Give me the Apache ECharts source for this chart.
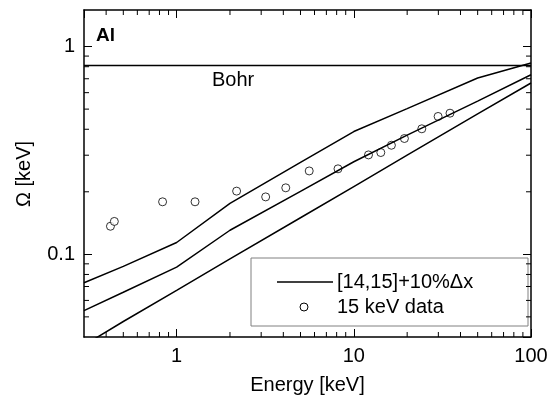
<!DOCTYPE html>
<html><head><meta charset="utf-8">
<script src="https://cdn.jsdelivr.net/npm/echarts@6/dist/echarts.min.js"></script>
<style>html,body{margin:0;padding:0;background:#fff}#c{width:559px;height:406px}</style>
</head><body><div id="c"></div>
<script>
const curveEnergy = [0.3, 0.5, 1, 2, 5, 10, 20, 50, 100];
const upperOmega  = [0.073, 0.0875, 0.114, 0.176, 0.277, 0.39, 0.503, 0.706, 0.834];
const middleOmega = [0.0536, 0.0657, 0.0868, 0.1306, 0.201, 0.279, 0.375, 0.546, 0.732];
const lowerOmega  = [0.0365, 0.0475, 0.067, 0.095, 0.150, 0.212, 0.300, 0.474, 0.668];
const bohrEnergy = [0.3, 100];
const bohrOmega  = [0.81, 0.81];
const dataEnergy = [0.423, 0.445, 0.833, 1.27, 2.18, 3.18, 4.13, 5.6, 8.14, 12.1, 14.2, 16.3, 19.3, 24.2, 29.9, 34.9];
const dataOmega  = [0.1365, 0.144, 0.179, 0.179, 0.2015, 0.189, 0.209, 0.252, 0.258, 0.301, 0.309, 0.335, 0.361, 0.402, 0.461, 0.478];
const xMinorTicks = [0.4,0.5,0.6,0.7,0.8,0.9,2,3,4,5,6,7,8,9,20,30,40,50,60,70,80,90];
const yMinorTicks = [0.05,0.06,0.07,0.08,0.09,0.2,0.3,0.4,0.5,0.6,0.7,0.8,0.9];
const xMin = 0.3, xMax = 100, yMin = 0.04, yMax = 1.5;
const xTitle = 'Energy [keV]';
const yTitle = '\u03A9 [keV]';
const legendLine = '[14,15]+10%\u0394x';
const legendData = '15 keV data';

const FONT = 'Liberation Sans';
const zip = (a, b) => a.map((v, i) => [v, b[i]]);
const axisLine = { show: true, onZero: false, lineStyle: { color: '#000', width: 1.5 } };
const tick = { show: true, inside: true, length: 8, lineStyle: { color: '#000', width: 1 } };
const lineStyle = { color: '#000', width: 1.5 };
const txt = (text, extra) => Object.assign({ text, fontSize: 20, fontFamily: FONT, fill: '#000' }, extra || {});

const chart = echarts.init(document.getElementById('c'));
chart.setOption({
  animation: false,
  grid: { left: 84, right: 28, top: 10, bottom: 69 },
  xAxis: [
    { type: 'log', logBase: 10, min: xMin, max: xMax, position: 'bottom',
      axisLine, axisTick: tick, splitLine: { show: false },
      axisLabel: { margin: 9, color: '#000', fontSize: 20, fontFamily: FONT, showMinLabel: false } },
    { type: 'log', logBase: 10, min: xMin, max: xMax, position: 'top',
      axisLine, axisTick: tick, splitLine: { show: false }, axisLabel: { show: false } }
  ],
  yAxis: [
    { type: 'log', logBase: 10, min: yMin, max: yMax, position: 'left',
      axisLine, axisTick: tick, splitLine: { show: false },
      axisLabel: { margin: 9, color: '#000', fontSize: 20, fontFamily: FONT, showMinLabel: false, showMaxLabel: false } },
    { type: 'log', logBase: 10, min: yMin, max: yMax, position: 'right',
      axisLine, axisTick: tick, splitLine: { show: false }, axisLabel: { show: false } }
  ],
  graphic: [
    { type: 'text', x: 307.5, y: 385, style: txt(xTitle, { align: 'center', verticalAlign: 'middle' }) },
    { type: 'text', x: 24, y: 174, rotation: Math.PI / 2, style: txt(yTitle, { align: 'center', verticalAlign: 'middle' }) },
    { type: 'text', x: 96, y: 26, style: txt('Al', { fontSize: 19, fontWeight: 'bold' }) },
    { type: 'text', x: 212, y: 70, style: txt('Bohr') },
    { type: 'rect', shape: { x: 251, y: 258, width: 277, height: 68 },
      style: { fill: null, stroke: '#808080', lineWidth: 1 } },
    { type: 'line', shape: { x1: 277, y1: 282, x2: 333, y2: 282 }, style: { stroke: '#000', lineWidth: 1.5 } },
    { type: 'text', x: 337, y: 282, style: txt(legendLine, { verticalAlign: 'middle' }) },
    { type: 'circle', shape: { cx: 304, cy: 307, r: 4 }, style: { fill: '#fff', stroke: '#000', lineWidth: 1 } },
    { type: 'text', x: 337, y: 307, style: txt(legendData, { verticalAlign: 'middle' }) }
  ],
  series: [
    { name: 'Bohr', type: 'line', data: zip(bohrEnergy, bohrOmega), symbol: 'none', lineStyle },
    { name: legendLine, type: 'line', data: zip(curveEnergy, upperOmega), symbol: 'none', lineStyle },
    { name: 'mid', type: 'line', data: zip(curveEnergy, middleOmega), symbol: 'none', lineStyle },
    { name: 'low', type: 'line', data: zip(curveEnergy, lowerOmega), symbol: 'none', lineStyle },
    { name: legendData, type: 'scatter', data: zip(dataEnergy, dataOmega), symbol: 'circle', symbolSize: 8,
      itemStyle: { color: '#fff', borderColor: '#000', borderWidth: 1 } },
    { name: 'minorTicks', type: 'custom', clip: false, silent: true,
      encode: { x: 0, y: 1 },
      data: xMinorTicks.map(v => [v, yMin, 0]).concat(yMinorTicks.map(v => [xMin, v, 1])),
      renderItem(params, api) {
        const kind = api.value(2), L = 5, st = { stroke: '#000', lineWidth: 1 };
        if (kind === 0) {
          const b = api.coord([api.value(0), yMin]);
          const t = api.coord([api.value(0), yMax]);
          return { type: 'group', children: [
            { type: 'line', shape: { x1: b[0], y1: b[1], x2: b[0], y2: b[1] - L }, style: st },
            { type: 'line', shape: { x1: t[0], y1: t[1], x2: t[0], y2: t[1] + L }, style: st } ] };
        }
        const l = api.coord([xMin, api.value(1)]);
        const r = api.coord([xMax, api.value(1)]);
        return { type: 'group', children: [
          { type: 'line', shape: { x1: l[0], y1: l[1], x2: l[0] + L, y2: l[1] }, style: st },
          { type: 'line', shape: { x1: r[0], y1: r[1], x2: r[0] - L, y2: r[1] }, style: st } ] };
      }
    }
  ]
});
</script></body></html>
